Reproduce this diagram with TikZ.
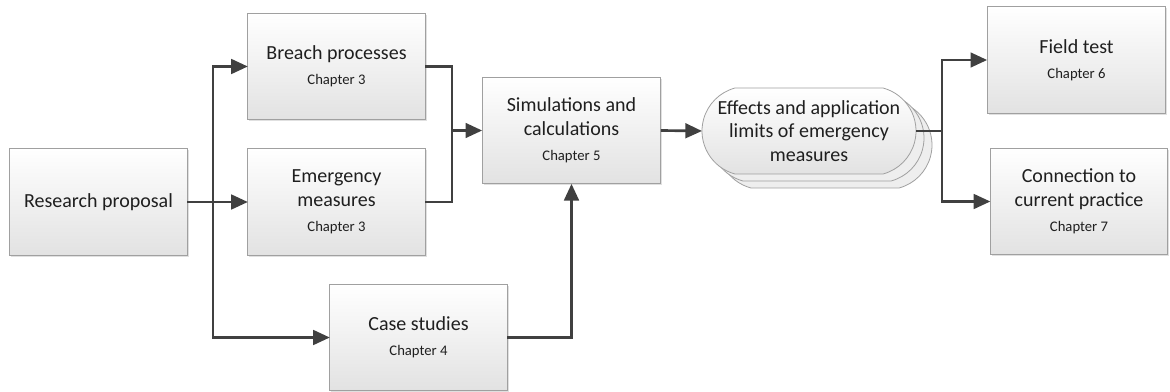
\documentclass[tikz,border=0pt]{standalone}
\usepackage{fontspec}
\setmainfont{Carlito}
\usepackage{tikz}
\usetikzlibrary{arrows.meta,shadows,shapes.misc,positioning}
\definecolor{linegray}{HTML}{404040}
\definecolor{boxline}{HTML}{A0A0A0}
\definecolor{boxbottom}{HTML}{E2E2E2}
\newcommand{\chapnum}[1]{{\fontsize{11}{13}\selectfont Chapter #1}}

\begin{document}
\begin{tikzpicture}[x=0.75pt,y=0.75pt,yscale=-1,
  procbox/.style={draw=boxline, line width=0.6pt, top color=white, bottom color=boxbottom,
    minimum width=133pt, minimum height=80pt, inner sep=0pt, outer sep=0pt, align=center,
    text=black!88, font=\fontsize{15}{17.5}\selectfont,
    drop shadow={shadow xshift=1.2pt, shadow yshift=-1.2pt, fill=black!35, opacity=0.35}},
  effbox/.style={rounded rectangle, rounded rectangle arc length=150,
    draw=boxline, line width=0.6pt, top color=white, bottom color=boxbottom,
    minimum width=160.5pt, minimum height=64.5pt, inner sep=0pt,
    outer sep=0pt, align=center, text=black!88, font=\fontsize{15}{17.5}\selectfont,
    double copy shadow={shadow xshift=6pt, shadow yshift=-5.25pt, draw=boxline,
      fill=boxbottom!60!white, line width=0.6pt, opacity=1}},
  link/.style={draw=linegray, line width=2pt},
  arr/.style={link, -{Triangle[length=12.5pt,width=11pt]}}]
\useasboundingbox (0,0) rectangle (1170,392);

%Flowchart: Process
\node[procbox] (prop) at (98.5,202) {Research proposal};
\node[procbox] (breach) at (336.5,66.5) {Breach processes\\[1.5pt]\chapnum{3}};
\node[procbox] (emerg) at (336.5,202) {Emergency\\measures\\[1.5pt]\chapnum{3}};
\node[procbox] (case) at (418.5,337.5) {Case studies\\[1.5pt]\chapnum{4}};
\node[procbox, minimum width=134pt] (sim) at (571.5,130.5) {Simulations and\\calculations\\[1.5pt]\chapnum{5}};
%Flowchart: Multiple documents
\node[effbox] (eff) at (809,131) {Effects and application\\limits of emergency\\measures};
\node[procbox, minimum width=134pt] (field) at (1076.5,60) {Field test\\[1.5pt]\chapnum{6}};
\node[procbox] (conn) at (1079,201.5) {Connection to\\current practice\\[1.5pt]\chapnum{7}};

% Junctions
\coordinate (split) at (213,202);
\coordinate (merge) at (452,130.5);
\coordinate (fork) at (942,131);

% Connectors
\draw[arr] (prop.east) -- (emerg.west);
\draw[arr] (split) |- (breach.west);
\draw[arr] (split) |- (case.west);
\draw[link] (breach.east) -| (merge) |- (emerg.east);
\draw[arr] (merge) -- (sim.west);
\draw[arr] (case.east) -| (sim.south);
\draw[arr] (sim.east) -- (eff.west);
\draw[link] (eff.east) -- (fork);
\draw[arr] (fork) |- (field.west);
\draw[arr] (fork) |- (conn.west);
\end{tikzpicture}
\end{document}
